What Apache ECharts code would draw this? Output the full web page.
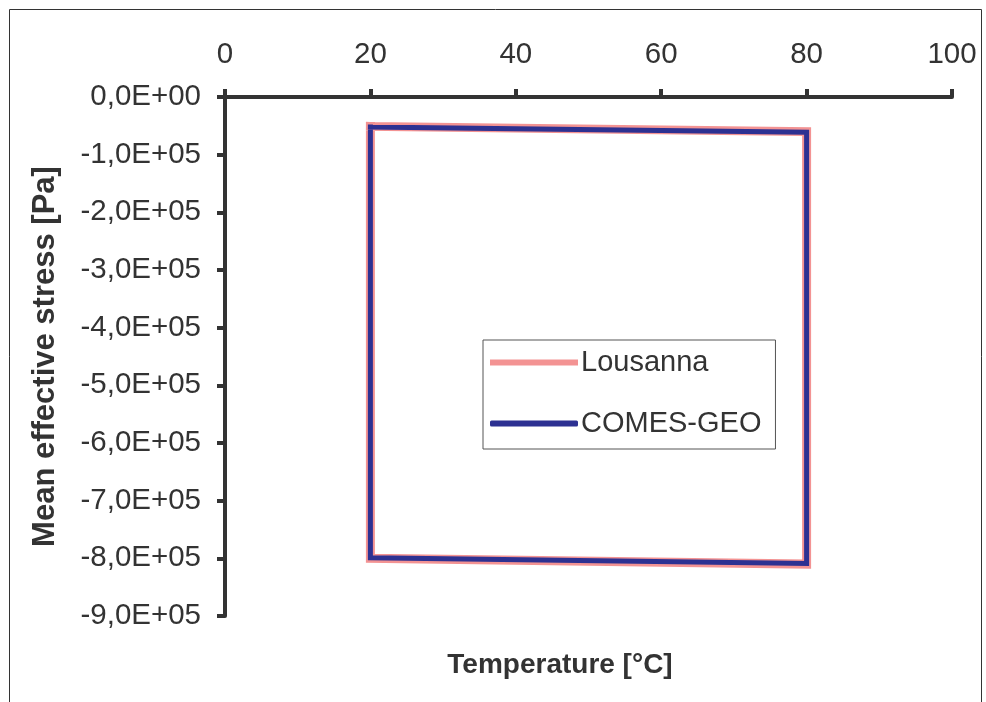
<!DOCTYPE html>
<html>
<head>
<meta charset="utf-8">
<script src="https://cdn.jsdelivr.net/npm/echarts@6/dist/echarts.min.js"></script>
<style>
  html, body { margin: 0; padding: 0; background: #fff; }
  #chart { width: 986px; height: 702px; }
</style>
</head>
<body>
<div id="chart"></div>
<script>
// Temperature cycle paths [°C] and mean effective stress [Pa]
const lousannaTemp   = [20, 80, 80, 20, 20];
const lousannaStress = [-51000, -60000, -810000, -800000, -51000];
const comesTemp      = [20, 80, 80, 20, 20];
const comesStress    = [-52000, -61000, -809000, -799000, -52000];

const xTicks = [0, 20, 40, 60, 80, 100];
const yTickLabels = ['0,0E+00', '-1,0E+05', '-2,0E+05', '-3,0E+05', '-4,0E+05',
                     '-5,0E+05', '-6,0E+05', '-7,0E+05', '-8,0E+05', '-9,0E+05'];

const FONT = 'Liberation Sans, Arial, sans-serif';
const AXIS_COLOR = '#333';
const TEXT_COLOR = '#333';

function pairs(xs, ys) { return xs.map((x, i) => [x, ys[i]]); }

const chart = echarts.init(document.getElementById('chart'), null, { renderer: 'canvas' });

chart.setOption({
  animation: false,
  backgroundColor: '#fff',
  textStyle: { fontFamily: FONT },
  grid: { left: 225, right: 34, top: 97, bottom: 86, containLabel: false },
  xAxis: {
    type: 'value',
    position: 'top',
    min: xTicks[0],
    max: xTicks[xTicks.length - 1],
    interval: 20,
    axisLine: { onZero: false, lineStyle: { color: AXIS_COLOR, width: 4 } },
    axisTick: { show: true, inside: false, length: 8, lineStyle: { color: AXIS_COLOR, width: 4 } },
    axisLabel: { margin: 27, fontSize: 29.5, color: TEXT_COLOR, fontFamily: FONT },
    splitLine: { show: false }
  },
  yAxis: {
    type: 'value',
    min: -900000,
    max: 0,
    interval: 100000,
    name: 'Mean effective stress [Pa]',
    nameLocation: 'middle',
    nameGap: 164,
    nameRotate: 90,
    nameTextStyle: { fontSize: 31, fontWeight: 'bold', color: TEXT_COLOR, fontFamily: FONT },
    axisLine: { onZero: false, lineStyle: { color: AXIS_COLOR, width: 4 } },
    axisTick: { show: true, inside: false, length: 8, lineStyle: { color: AXIS_COLOR, width: 4 } },
    axisLabel: {
      margin: 24, fontSize: 29.5, color: TEXT_COLOR, fontFamily: FONT,
      formatter: (v) => yTickLabels[Math.round(-v / 100000)]
    },
    splitLine: { show: false }
  },
  legend: {
    orient: 'vertical',
    left: 483,
    top: 340,
    padding: [8, 14, 11, 7],
    itemGap: 32,
    itemWidth: 88,
    itemHeight: 6,
    backgroundColor: '#fff',
    borderColor: '#555',
    borderWidth: 1,
    borderRadius: 0,
    textStyle: { fontSize: 29, color: TEXT_COLOR, fontFamily: FONT, padding: [0, 0, 0, -2] },
    data: [
      { name: 'Lousanna', icon: 'rect', itemStyle: { color: '#f39393' } },
      { name: 'COMES-GEO', icon: 'roundRect', itemStyle: { color: '#2d3192' } }
    ]
  },
  series: [
    {
      name: 'Lousanna',
      type: 'line',
      data: pairs(lousannaTemp, lousannaStress),
      symbol: 'none',
      color: '#f39393',
      lineStyle: { width: 9, color: '#f39393', join: 'miter', cap: 'square' },
      z: 2
    },
    {
      name: 'COMES-GEO',
      type: 'line',
      data: pairs(comesTemp, comesStress),
      symbol: 'none',
      color: '#2d3192',
      lineStyle: { width: 5, color: '#2d3192', join: 'miter', cap: 'square' },
      z: 3
    }
  ],
  graphic: [
    {
      type: 'rect',
      shape: { x: 9.5, y: 9.5, width: 972, height: 720 },
      style: { fill: 'none', stroke: '#333', lineWidth: 1 },
      silent: true,
      z: -1
    },
    {
      type: 'text',
      x: 560,
      y: 665,
      style: {
        text: 'Temperature [°C]',
        fontSize: 28,
        fontWeight: 'bold',
        fontFamily: FONT,
        fill: TEXT_COLOR,
        textAlign: 'center',
        textVerticalAlign: 'middle'
      }
    }
  ]
});
</script>
</body>
</html>
